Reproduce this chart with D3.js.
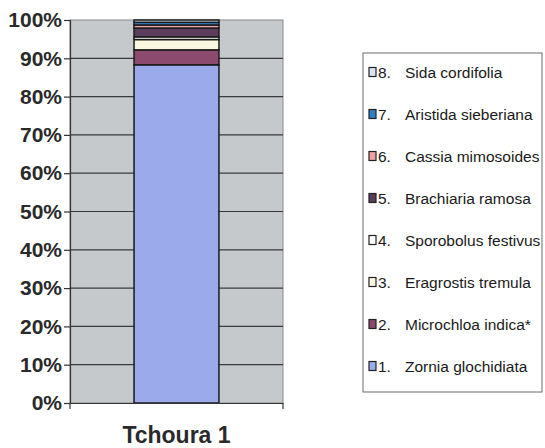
<!DOCTYPE html>
<html><head><meta charset="utf-8">
<script src="https://cdn.jsdelivr.net/npm/d3@7"></script>
<style>
html,body{margin:0;padding:0;background:#fff;}
svg{display:block;}
</style></head>
<body>
<script>
const categories = ["Tchoura 1"];
const speciesNumbers = ["1.", "2.", "3.", "4.", "5.", "6.", "7.", "8."];
const speciesNames = ["Zornia glochidiata", "Microchloa indica*", "Eragrostis tremula", "Sporobolus festivus", "Brachiaria ramosa", "Cassia mimosoides", "Aristida sieberiana", "Sida cordifolia"];
const values = [88.3, 3.9, 2.7, 0.7, 2.3, 0.8, 0.7, 0.6];
const colors = ["#9aaaea", "#8c4a6e", "#fbf8e2", "#ffffff", "#5e3c5e", "#f0a0a0", "#2f7fc4", "#d8e4f2"];
const yTicks = [0, 10, 20, 30, 40, 50, 60, 70, 80, 90, 100];

const W = 545, H = 448;
const svg = d3.select("body").append("svg").attr("width", W).attr("height", H);

const plot = {left: 70, right: 283, top: 20, bottom: 403};
const x = d3.scaleBand().domain(categories).range([plot.left, plot.right]).padding(0.43);
const y = d3.scaleLinear().domain([0, 100]).range([plot.bottom, plot.top]);

// plot background
svg.append("rect").attr("x", plot.left).attr("y", plot.top)
  .attr("width", plot.right - plot.left).attr("height", plot.bottom - plot.top)
  .attr("fill", "#c5c9cc").attr("stroke", "#8a8a8a").attr("stroke-width", 1);

// gridlines
svg.append("g").selectAll("line").data(yTicks.filter(d => d > 0 && d < 100)).join("line")
  .attr("x1", plot.left).attr("x2", plot.right)
  .attr("y1", d => y(d)).attr("y2", d => y(d))
  .attr("stroke", "#3a3a3a").attr("stroke-width", 1.2);

// stacked bar
const row = {cat: categories[0]};
speciesNames.forEach((s, i) => row[s] = values[i]);
const stack = d3.stack().keys(speciesNames)([row]);
svg.append("g").selectAll("rect").data(stack).join("rect")
  .attr("x", x(categories[0]))
  .attr("width", x.bandwidth())
  .attr("y", d => y(d[0][1]))
  .attr("height", d => y(d[0][0]) - y(d[0][1]))
  .attr("fill", (d, i) => colors[i])
  .attr("stroke", "#1a1a1a").attr("stroke-width", 1.5);

// y axis
const yAxis = d3.axisLeft(y).tickValues(yTicks).tickFormat(d => d + "%").tickSize(6).tickPadding(2);
const gy = svg.append("g").attr("transform", `translate(${plot.left},0)`).call(yAxis);
gy.select(".domain").attr("stroke", "#333").attr("stroke-width", 1.2);
gy.selectAll(".tick line").attr("stroke", "#333").attr("stroke-width", 1.2);
gy.selectAll("text").attr("font-family", "Arial, 'Liberation Sans', sans-serif")
  .attr("font-size", 21).attr("font-weight", "bold").attr("fill", "#2a2a2a");

// x axis
const xAxis = d3.axisBottom(x).tickSize(0).tickPadding(24);
const gx = svg.append("g").attr("transform", `translate(0,${plot.bottom})`).call(xAxis);
gx.select(".domain").attr("stroke", "#333").attr("stroke-width", 1.2);
gx.selectAll("text").attr("font-family", "Arial, 'Liberation Sans', sans-serif")
  .attr("font-size", 23).attr("font-weight", "bold").attr("fill", "#2a2a2a");
svg.append("g").selectAll("line").data([plot.left, plot.right]).join("line")
  .attr("x1", d => d).attr("x2", d => d).attr("y1", plot.bottom).attr("y2", plot.bottom + 6)
  .attr("stroke", "#333").attr("stroke-width", 1.2);

// legend
const lg = {x: 363, y: 53, w: 179, h: 339};
svg.append("rect").attr("x", lg.x).attr("y", lg.y).attr("width", lg.w).attr("height", lg.h)
  .attr("fill", "#fff").attr("stroke", "#6a6a6a").attr("stroke-width", 1);
const ly = d3.scalePoint().domain(d3.range(8)).range([72, 366]);
const items = d3.range(7, -1, -1);
const li = svg.append("g").selectAll("g").data(items).join("g")
  .attr("transform", (d, j) => `translate(0,${ly(j)})`);
li.append("rect").attr("x", 369).attr("y", -4.5).attr("width", 7).attr("height", 9)
  .attr("fill", d => colors[d]).attr("stroke", "#222").attr("stroke-width", 1.2);
li.append("text").attr("x", 378).attr("y", 5.5).text(d => speciesNumbers[d])
  .attr("font-family", "Arial, 'Liberation Sans', sans-serif").attr("font-size", 15.5).attr("fill", "#1a1a1a");
li.append("text").attr("x", 405).attr("y", 5.5).text(d => speciesNames[d])
  .attr("font-family", "Arial, 'Liberation Sans', sans-serif").attr("font-size", 15.5).attr("fill", "#1a1a1a");
</script>
</body></html>
